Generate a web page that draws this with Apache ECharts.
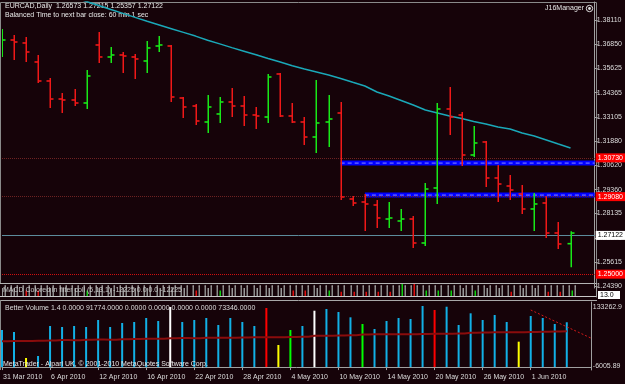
<!DOCTYPE html>
<html><head><meta charset="utf-8">
<script src="https://cdn.jsdelivr.net/npm/echarts@6/dist/echarts.min.js"></script>
<style>html,body{margin:0;padding:0;background:#160309;}#c{width:625px;height:384px;}</style>
</head><body><div id="c"></div>
<script>
// ---------- data ----------
const dates = ['31 Mar 2010','1 Apr 2010','2 Apr 2010','5 Apr 2010','6 Apr 2010','7 Apr 2010','8 Apr 2010','9 Apr 2010',
  '12 Apr 2010','13 Apr 2010','14 Apr 2010','15 Apr 2010','16 Apr 2010','19 Apr 2010','20 Apr 2010','21 Apr 2010',
  '22 Apr 2010','23 Apr 2010','26 Apr 2010','27 Apr 2010','28 Apr 2010','29 Apr 2010','30 Apr 2010','3 May 2010',
  '4 May 2010','5 May 2010','6 May 2010','7 May 2010','10 May 2010','11 May 2010','12 May 2010','13 May 2010',
  '14 May 2010','17 May 2010','18 May 2010','19 May 2010','20 May 2010','21 May 2010','24 May 2010','25 May 2010',
  '26 May 2010','27 May 2010','28 May 2010','31 May 2010','1 Jun 2010','2 Jun 2010','3 Jun 2010','4 Jun 2010'];
const opens = [1.36460,1.37078,1.36924,1.35944,1.34964,1.34035,1.33984,1.33829,1.36821,1.36202,1.36305,1.36202,
  1.35995,1.36769,1.36769,1.34087,1.33674,1.32849,1.33262,1.33881,1.33674,1.33210,1.33107,1.35325,
  1.33159,1.32849,1.32075,1.32849,1.33313,1.28878,1.28723,1.28568,1.27846,1.27743,1.27846,1.26608,
  1.29445,1.33520,1.33210,1.31147,1.31818,1.29961,1.29548,1.29135,1.28362,1.28671,1.27124,1.26573];
const highs = [1.37646,1.37336,1.37233,1.36305,1.35119,1.34345,1.34551,1.35531,1.37491,1.36717,1.36460,1.36356,
  1.37027,1.37285,1.36821,1.34139,1.33777,1.34242,1.34139,1.34603,1.34190,1.33623,1.35325,1.35376,
  1.33829,1.33107,1.35015,1.34242,1.33881,1.29032,1.29135,1.28826,1.28723,1.28362,1.28001,1.29703,
  1.33829,1.34654,1.33365,1.32643,1.31869,1.30631,1.30115,1.29600,1.29187,1.29032,1.27691,1.27215];
const lows = [1.36202,1.36047,1.35944,1.34861,1.33571,1.33313,1.33674,1.33520,1.35892,1.35892,1.35376,1.35067,
  1.35376,1.36460,1.33881,1.33055,1.32694,1.32282,1.32798,1.33107,1.32643,1.32488,1.32798,1.33107,
  1.32798,1.31663,1.31250,1.31560,1.28826,1.28517,1.27227,1.27382,1.27382,1.27227,1.26350,1.26453,
  1.28620,1.32179,1.30580,1.31044,1.29497,1.28723,1.28826,1.28104,1.27227,1.26866,1.26299,1.25357];
const closes = [1.37078,1.36975,1.36460,1.34964,1.34035,1.33984,1.33829,1.35222,1.36202,1.36305,1.36253,1.36099,
  1.36666,1.36821,1.34139,1.33623,1.32901,1.33623,1.33881,1.33674,1.33210,1.33159,1.35170,1.33159,
  1.32849,1.32075,1.32798,1.33004,1.28981,1.28671,1.28620,1.27898,1.27898,1.27846,1.26608,1.29393,
  1.33520,1.33107,1.31147,1.31766,1.29961,1.29651,1.29342,1.28362,1.28620,1.27124,1.26557,1.27122];
const maValues = [null,null,null,null,null,1.39472,1.39265,1.39064,1.38858,1.38652,1.38450,1.38244,
  1.38043,1.37852,1.37661,1.37470,1.37280,1.37063,1.36877,1.36686,1.36501,1.36315,1.36124,1.35939,
  1.35753,1.35583,1.35428,1.35273,1.35093,1.34897,1.34706,1.34396,1.34190,1.33958,1.33726,1.33468,
  1.33313,1.33159,1.33030,1.32875,1.32746,1.32591,1.32488,1.32282,1.32127,1.31921,1.31714,1.31508];
const priceTicks = [1.38110,1.36850,1.35625,1.34365,1.33105,1.31880,1.30620,1.29360,1.28135,1.26875,1.25615,1.24390];
const levelBand1 = 1.30730, band1Start = 28;
const levelBand2 = 1.29080, band2Start = 30;
const bidPrice = 1.27122;
const roundLevel = 1.25000;

const volumes = [75900,71800,18600,22700,84100,82100,84100,82100,96400,82100,90300,92300,
  100500,94400,123000,92300,96400,100500,86200,100500,92300,84100,121000,45200,
  75900,84100,115400,118900,112800,101900,88200,78000,94400,100500,98400,125100,
  116900,123600,86200,110100,96400,106600,92300,52000,104600,100500,88200,91774];
const volColors = ['b','b','y','b','b','b','b','b','b','b','b','b','b','b','w','b','b','b','b','b','b','b','r','y',
  'g','b','w','b','b','b','g','b','b','b','b','b','r','b','b','b','b','b','b','y','b','b','b','b'];
const volMA = [52800,53600,53300,54100,54500,55200,55000,55700,56400,56200,56900,57500,
  58200,58000,58900,59300,59100,59800,60200,60000,60600,61000,61300,61100,
  61700,62200,64000,64300,64500,65000,66800,67000,67100,67300,67200,67600,
  68000,68300,68900,70500,71000,71200,71500,71400,71800,72300,72900,73346];
const volTrend = [[44,116900],[49,59500]];
const volTicks = [133262.9,-6005.89];

const macdHist = [7,7,5,5,7,7,7,5,7,7,7,7,7,7,7,7,5,7,5,7,7,7,7,7,
  5,5,7,5,4,4,4,4,4,10,10,5,5,5,7,5,7,7,4,7,7,4,4,5];
const macdCols = ['n','n','r','r','n','n','n','g','n','n','n','n','n','n','n','n','r','n','g','n','n','n','n','n',
  'r','r','n','g','r','r','r','r','r','g','r','g','g','g','n','g','n','n','r','n','n','r','r','g'];

// ---------- chart ----------
const BG = '#160309', UP = '#18e818', DN = '#f01818', AX = '#a0a0a0', TX = '#dcdcdc';
const FONT = 'Liberation Sans';
const cats = dates.concat(['', '']);
const lblInterval = (i) => i % 4 === 0 && i < dates.length;
const ohlc = dates.map((d, i) => [i, opens[i], closes[i], lows[i], highs[i]]);
const macdData = macdHist.map((v, i) => [i, v]);
const volCMap = {b:'#12b0e6', w:'#ffffff', y:'#ffff00', r:'#ff0000', g:'#00ff00'};
const macdCMap = {n:'#9a9a9a', r:'#e01010', g:'#10d010'};

const chart = echarts.init(document.getElementById('c'), null, {width:625, height:384});

function boxLabel(text, bg, fg) {
  return {show:true, position:'end', distance:1, formatter:text, backgroundColor:bg, color:fg,
    fontSize:7, fontFamily:FONT, padding:[1,2,1,2]};
}

chart.setOption({
  backgroundColor: BG,
  animation: false,
  textStyle: {fontFamily: FONT},
  grid: [
    {left:2, right:29, top:2, height:286},
    {left:2, right:29, top:284, height:13},
    {left:2, right:29, top:302, height:68}
  ],
  xAxis: [
    {gridIndex:0, type:'category', data:cats, boundaryGap:false, show:false},
    {gridIndex:1, type:'category', data:cats, boundaryGap:false, show:false},
    {gridIndex:2, type:'category', data:cats, boundaryGap:false,
      axisLine:{lineStyle:{color:AX}},
      axisTick:{show:true, interval:lblInterval, length:3, lineStyle:{color:AX}},
      axisLabel:{interval:lblInterval, align:'left', color:TX, fontSize:7, fontFamily:FONT, margin:4, padding:[0,0,0,1]},
      splitLine:{show:false}}
  ],
  yAxis: [
    {gridIndex:0, type:'value', position:'right', min:1.24287, max:1.39038, splitLine:{show:false},
      axisLine:{show:true, lineStyle:{color:AX}},
      axisTick:{show:true, customValues:priceTicks, length:3, lineStyle:{color:AX}},
      axisLabel:{customValues:priceTicks, formatter:(v)=>v.toFixed(5), color:TX, fontSize:7, fontFamily:FONT, margin:2}},
    {gridIndex:1, type:'value', position:'right', min:0, max:10, splitLine:{show:false},
      axisLine:{show:true, lineStyle:{color:AX}}, axisTick:{show:false}, axisLabel:{show:false}},
    {gridIndex:2, type:'value', position:'right', min:-6005.89, max:133262.9, splitLine:{show:false},
      axisLine:{show:true, lineStyle:{color:AX}},
      axisTick:{show:false},
      axisLabel:{customValues:volTicks, margin:2,
        formatter:(v)=> v > 0 ? '{t|' + v.toFixed(1) + '}' : '{b|' + v.toFixed(2) + '}',
        rich:{t:{padding:[10,0,0,0], fontSize:7, color:TX, fontFamily:FONT},
              b:{padding:[0,0,8,0], fontSize:7, color:TX, fontFamily:FONT}}}}
  ],
  series: [
    {name:'MA', type:'line', xAxisIndex:0, yAxisIndex:0, data:maValues, showSymbol:false, clip:true,
      lineStyle:{color:'#1aa8b8', width:1.5}, z:3,
      markLine:{silent:true, symbol:['none','none'], animation:false,
        data:[
          {yAxis:levelBand1, lineStyle:{color:'#6e2222', type:'dotted', width:1}, label:boxLabel(levelBand1.toFixed(5), '#ff0000', '#ffffff')},
          {yAxis:levelBand2, lineStyle:{color:'#6e2222', type:'dotted', width:1}, label:boxLabel(levelBand2.toFixed(5), '#ff0000', '#ffffff')},
          {yAxis:bidPrice, lineStyle:{color:'#5c8c9c', type:'solid', width:1}, label:boxLabel(bidPrice.toFixed(5), '#ffffff', '#000000')},
          {yAxis:roundLevel, lineStyle:{color:'#d01010', type:'dotted', width:1}, label:boxLabel(roundLevel.toFixed(5), '#ff0000', '#ffffff')}
        ]}},
    {name:'band1', type:'line', xAxisIndex:0, yAxisIndex:0, data:[[band1Start, levelBand1],[cats.length-1, levelBand1]],
      showSymbol:false, lineStyle:{color:'#0000ff', width:5}, z:4},
    {name:'band1d', type:'line', xAxisIndex:0, yAxisIndex:0, data:[[band1Start, levelBand1],[cats.length-1, levelBand1]],
      showSymbol:false, lineStyle:{color:'#8a8aff', width:1, type:[4,3]}, z:5},
    {name:'band2', type:'line', xAxisIndex:0, yAxisIndex:0, data:[[band2Start, levelBand2],[cats.length-1, levelBand2]],
      showSymbol:false, lineStyle:{color:'#0000ff', width:5}, z:4},
    {name:'band2d', type:'line', xAxisIndex:0, yAxisIndex:0, data:[[band2Start, levelBand2],[cats.length-1, levelBand2]],
      showSymbol:false, lineStyle:{color:'#8a8aff', width:1, type:[4,3]}, z:5},
    {name:'OHLC', type:'custom', xAxisIndex:0, yAxisIndex:0, data:ohlc, clip:true, z:6,
      encode:{x:0, y:[1,2,3,4]},
      renderItem:function(params, api){
        const i = api.value(0);
        const o = api.coord([i, api.value(1)]);
        const c = api.coord([i, api.value(2)]);
        const l = api.coord([i, api.value(3)]);
        const h = api.coord([i, api.value(4)]);
        const col = api.value(2) >= api.value(1) ? UP : DN;
        const x = Math.round(h[0]);
        return {type:'group', children:[
          {type:'rect', shape:{x:x-0.5, y:h[1], width:1.5, height:Math.max(1, l[1]-h[1])}, style:{fill:col}},
          {type:'rect', shape:{x:x-3.5, y:o[1]-0.8, width:3.5, height:1.6}, style:{fill:col}},
          {type:'rect', shape:{x:x, y:c[1]-0.8, width:3.5, height:1.6}, style:{fill:col}}
        ]};
      }},
    {name:'MACD', type:'custom', xAxisIndex:1, yAxisIndex:1, data:macdData, clip:true,
      encode:{x:0, y:1},
      renderItem:function(params, api){
        const i = api.value(0);
        const base = api.coord([i, 0]);
        const top = api.coord([i, api.value(1)]);
        const full = api.coord([i, 8]);
        const x = Math.round(base[0]);
        const col = macdCMap[macdCols[i]];
        const kids = [
          {type:'rect', shape:{x:x-3.5, y:full[1], width:1.5, height:base[1]-full[1]-1}, style:{fill:'#8c8c8c'}},
          {type:'rect', shape:{x:x-3.5, y:full[1]-1, width:1.5, height:1}, style:{fill:'#e8e8e8'}},
          {type:'rect', shape:{x:x+2.5, y:full[1], width:1.5, height:base[1]-full[1]-1}, style:{fill:'#8c8c8c'}},
          {type:'rect', shape:{x:x+2.5, y:full[1]-1, width:1.5, height:1}, style:{fill:'#e8e8e8'}},
          {type:'rect', shape:{x:x-0.5, y:top[1], width:1.5, height:base[1]-top[1]-1}, style:{fill:col}}
        ];
        return {type:'group', children:kids};
      }},
    {name:'Volume', type:'bar', xAxisIndex:2, yAxisIndex:2, data:volumes, barWidth:2,
      itemStyle:{color:(p)=>volCMap[volColors[p.dataIndex]]}},
    {name:'VolMA', type:'line', xAxisIndex:2, yAxisIndex:2, data:volMA, showSymbol:false, step:'middle',
      lineStyle:{color:'#8a0c0c', width:2}, z:4},
    {name:'VolTrend', type:'line', xAxisIndex:2, yAxisIndex:2, data:volTrend, showSymbol:false,
      lineStyle:{color:'#d01818', width:1, type:[2,2]}, z:5}
  ],
  graphic: [
    {type:'rect', silent:true, z:-1, shape:{x:0.5, y:2.5, width:596, height:281}, style:{fill:null, stroke:'#8a8a8a', lineWidth:1}},
    {type:'line', silent:true, shape:{x1:0, y1:283.5, x2:597, y2:283.5}, style:{stroke:'#b4b4b4', lineWidth:1}},
    {type:'line', silent:true, shape:{x1:0, y1:296.5, x2:597, y2:296.5}, style:{stroke:'#c8c8c8', lineWidth:1}},
    {type:'line', silent:true, shape:{x1:0, y1:300.5, x2:597, y2:300.5}, style:{stroke:'#a8a8a8', lineWidth:1}},
    {type:'line', silent:true, shape:{x1:0.5, y1:300, x2:0.5, y2:370}, style:{stroke:'#8a8a8a', lineWidth:1}},
    {type:'text', silent:true, x:5, y:3, style:{text:'EURCAD,Daily  1.26573 1.27215 1.25357 1.27122', fill:'#e8e8e8', font:'7px "Liberation Sans"'}},
    {type:'text', silent:true, x:5, y:12, style:{text:'Balanced Time to next bar close: 60 min 1 sec', fill:'#e8e8e8', font:'7px "Liberation Sans"'}},
    {type:'text', silent:true, x:584, y:5, style:{text:'J16Manager', fill:'#e8e8e8', font:'7px "Liberation Sans"', align:'right'}},
    {type:'circle', silent:true, shape:{cx:589.5, cy:8.5, r:3.2}, style:{fill:null, stroke:'#e0e0e0', lineWidth:1}},
    {type:'circle', silent:true, shape:{cx:589.5, cy:8.5, r:1.4}, style:{fill:'#e0e0e0'}},
    {type:'text', silent:true, x:3, y:287, z:10, style:{text:'MACD Colored in filter coll (5,13,1) -12225 0.0 0.0 -12225', fill:'#c8c8c8', font:'7px "Liberation Sans"'}},
    {type:'rect', silent:true, shape:{x:598, y:291, width:22, height:8}, style:{fill:'#ffffff'}},
    {type:'text', silent:true, x:600, y:291.5, style:{text:'13.0', fill:'#000000', font:'7px "Liberation Sans"'}},
    {type:'text', silent:true, x:5, y:305, style:{text:'Better Volume 1.4 0.0000 91774.0000 0.0000 0.0000 0.0000 0.0000 73346.0000', fill:'#dcdcdc', font:'7px "Liberation Sans"'}},
    {type:'text', silent:true, x:3, y:361, z:10, style:{text:'MetaTrader - Alpari UK, \u00a9 2001-2010 MetaQuotes Software Corp.', fill:'#e8e8e8', font:'7px "Liberation Sans"'}}
  ]
});
</script>
</body></html>
